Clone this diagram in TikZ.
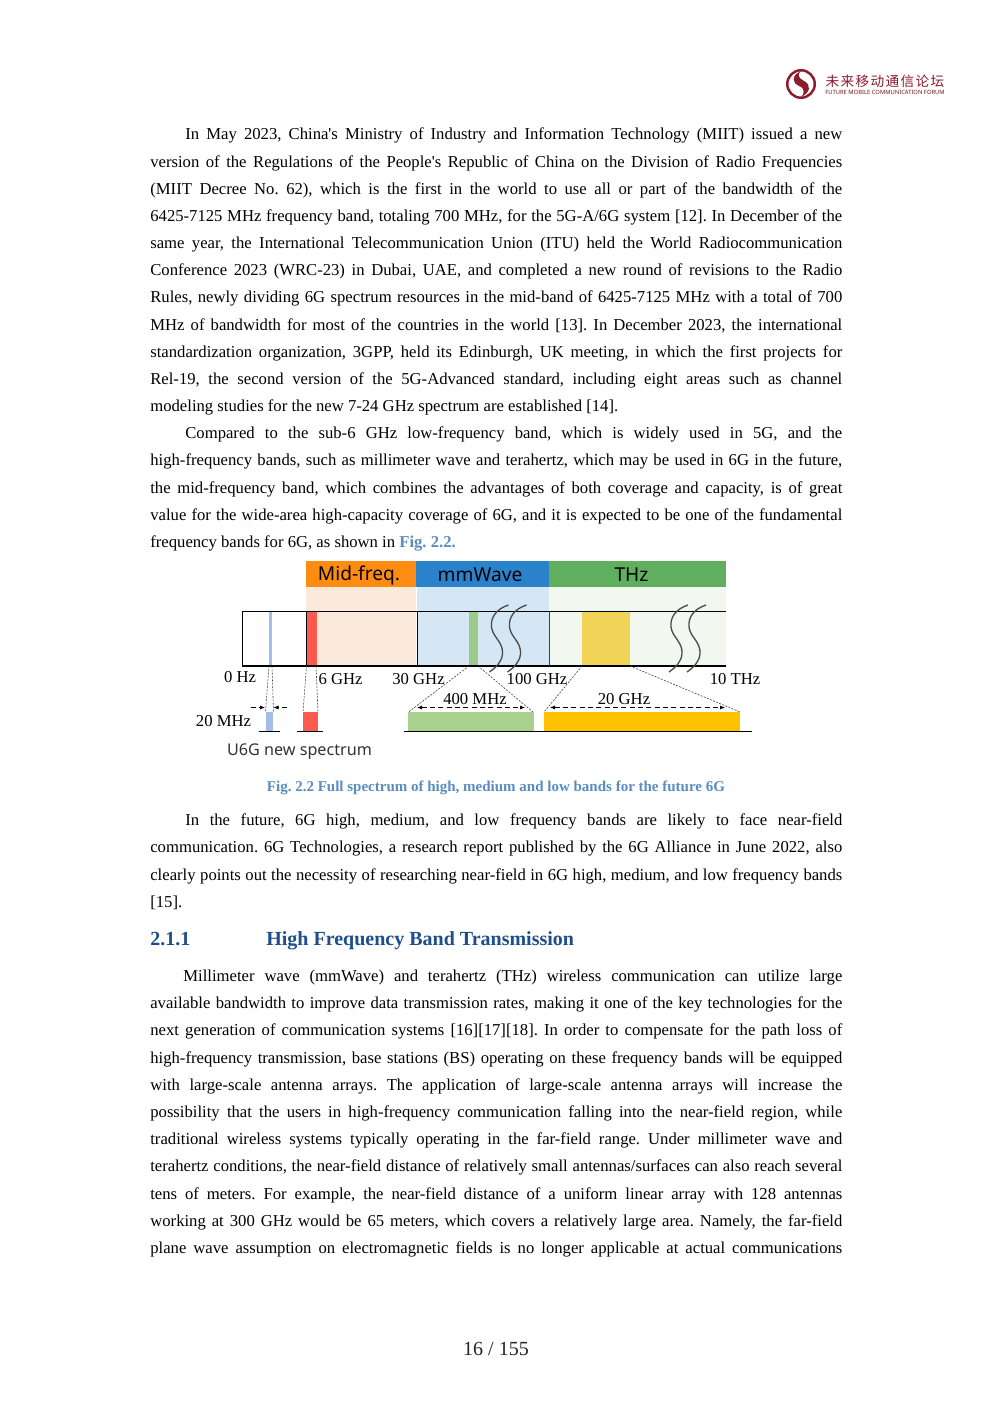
\documentclass[tikz,border=0pt]{standalone}
\usepackage{fontspec}
\setmainfont{Liberation Serif}
\newfontfamily\bodyf{Liberation Serif}
\newfontfamily\sansf{Noto Sans}
\newfontfamily\cjkf{Noto Sans CJK SC}
\usetikzlibrary{arrows.meta}
\definecolor{capblue}{HTML}{5B8CBE}
\definecolor{headblue}{HTML}{1F4E8C}
\definecolor{logored}{HTML}{8C1D2E}
\definecolor{orangeh}{HTML}{FF8C12}
\definecolor{blueh}{HTML}{2A82CB}
\definecolor{greenh}{HTML}{5FAF5F}
\definecolor{paleo}{HTML}{FBE9DC}
\definecolor{paleb}{HTML}{D5E6F4}
\definecolor{paleg}{HTML}{F2F7F0}
\definecolor{redb}{HTML}{FF5A50}
\definecolor{blueb}{HTML}{A3BDE8}
\definecolor{greenb}{HTML}{9CCB8C}
\definecolor{greenc}{HTML}{A9D18E}
\definecolor{yellowb}{HTML}{F0D458}
\definecolor{orangec}{HTML}{FFC000}
\tikzset{
  x=0.6pt,y=-0.6pt,
  body/.style={anchor=base west,inner sep=0pt,font=\bodyf\frenchspacing\fontsize{10}{12}\selectfont},
  band/.style={inner sep=0pt},
  bandtext/.style={inner sep=0pt,text=black,font=\sansf\fontsize{11.5}{13}\selectfont},
  freq/.style={inner sep=0pt,font=\fontsize{10}{12}\selectfont},
  zoomline/.style={line width=0.35pt,dash pattern=on 1.2pt off 0.8pt,black!75},
  dimline/.style={line width=0.4pt,densely dashed,black,{Latex[length=3pt,width=2.4pt]}-{Latex[length=3pt,width=2.4pt]}},
  wavy/.style={line width=0.8pt,black!70},
  rule/.style={line width=0.75pt},
  thinrule/.style={line width=0.55pt},
}
\newcommand{\fl}[2]{\node[body] (L#1) at (150,#1) {\makebox[415.2pt][s]{#2}};}
\newcommand{\il}[2]{\node[body] (L#1) at (185,#1) {\makebox[394.2pt][s]{#2}};}
\newcommand{\nl}[2]{\node[body] (L#1) at (150,#1) {#2};}
\newcommand{\wv}[2]{\draw[wavy] (#1+18,#2-22) .. controls (#1+6,#2-18) and (#1,#2-10) .. (#1+1,#2) .. controls (#1+2,#2+10) and (#1+13,#2+15) .. (#1+12,#2+27) .. controls (#1+11,#2+35) and (#1+6,#2+40) .. (#1-1,#2+45);}
\begin{document}
\begin{tikzpicture}
\useasboundingbox[fill=white] (0,0) rectangle (992,1403);
% logo
\node[circle,draw=logored,line width=1.5pt,minimum size=16.5pt,inner sep=0pt] (logo) at (801,84) {};
\fill[logored] (801,71) .. controls (790,76) and (793,84) .. (799,86) .. controls (806,89) and (804,94) .. (801,97) .. controls (810,93) and (812,85) .. (804,81) .. controls (798,78) and (797,74) .. (801,71) -- cycle;
\node[inner sep=0pt,text=logored,font=\cjkf\fontsize{8.2}{9}\selectfont] (logocn) at (885,81.5) {未\hspace{0.8pt}来\hspace{0.8pt}移\hspace{0.8pt}动\hspace{0.8pt}通\hspace{0.8pt}信\hspace{0.8pt}论\hspace{0.8pt}坛};
\node[inner sep=0pt,text=logored!80!black,font=\sansf\fontsize{3.5}{4}\selectfont] (logoen) at (885,92.5) {FUTURE MOBILE COMMUNICATION FORUM};
% paragraphs
\il{139.7}{In May 2023, China's Ministry of Industry and Information Technology (MIIT) issued a new}
\fl{167.3}{version of the Regulations of the People's Republic of China on the Division of Radio Frequencies}
\fl{194.3}{(MIIT Decree No. 62), which is the first in the world to use all or part of the bandwidth of the}
\fl{221.3}{6425-7125 MHz frequency band, totaling 700 MHz, for the 5G-A/6G system [12]. In December of the}
\fl{248.3}{same year, the International Telecommunication Union (ITU) held the World Radiocommunication}
\fl{275.3}{Conference 2023 (WRC-23) in Dubai, UAE, and completed a new round of revisions to the Radio}
\fl{302.5}{Rules, newly dividing 6G spectrum resources in the mid-band of 6425-7125 MHz with a total of 700}
\fl{330.3}{MHz of bandwidth for most of the countries in the world [13]. In December 2023, the international}
\fl{357.3}{standardization organization, 3GPP, held its Edinburgh, UK meeting, in which the first projects for}
\fl{384.3}{Rel-19, the second version of the 5G-Advanced standard, including eight areas such as channel}
\nl{411.5}{modeling studies for the new 7-24 GHz spectrum are established [14].}
\il{438}{Compared to the sub-6 GHz low-frequency band, which is widely used in 5G, and the}
\fl{465}{high-frequency bands, such as millimeter wave and terahertz, which may be used in 6G in the future,}
\fl{493}{the mid-frequency band, which combines the advantages of both coverage and capacity, is of great}
\fl{520}{value for the wide-area high-capacity coverage of 6G, and it is expected to be one of the fundamental}
\nl{547}{frequency bands for 6G, as shown in \textcolor{capblue}{\textbf{Fig. 2.2.}}}
% pale bands
\fill[paleo] (306,587) rectangle (416,666);
\fill[paleb] (417,587) rectangle (549,666);
\fill[paleg] (549,587) rectangle (726,666);
% header bands
\node[band,fill=orangeh,minimum width=66pt,minimum height=15.6pt] (midf) at (361,574) {};
\node[band,fill=blueh,minimum width=79.8pt,minimum height=15.6pt] (mmw) at (482.5,574) {};
\node[band,fill=greenh,minimum width=106.2pt,minimum height=15.6pt] (thz) at (637.5,574) {};
\node[bandtext] (midft) at (359,575) {Mid-freq.};
\node[bandtext] (mmwt) at (480,575) {mmWave};
\node[bandtext] (thzt) at (631.5,575) {THz};
% bars inside ruler
\fill[blueb] (269,612) rectangle (272,666);
\fill[redb] (306,612) rectangle (316.5,666);
\fill[greenb] (469,612) rectangle (478,666);
\fill[yellowb] (582,612) rectangle (630,666);
% ruler
\draw[rule] (726,611.5) -- (242.5,611.5) -- (242.5,666) -- (726,666);
\draw[thinrule] (306,611.5) -- (306,666);
\draw[thinrule] (417,611.5) -- (417,666);
\draw[rule,black!75] (549.5,611.5) -- (549.5,666);
% break marks
\wv{490.5}{627}
\wv{508.5}{627}
\wv{670}{627}
\wv{688}{627}
% zoomed bars
\fill[blueb] (265.5,712) rectangle (273,731);
\fill[redb] (303,712) rectangle (318,731);
\fill[greenc] (408,712) rectangle (533.5,731);
\fill[orangec] (544,712) rectangle (740,731);
\draw[rule] (259,731.5) -- (279.5,731.5);
\draw[rule] (297,731.5) -- (323,731.5);
\draw[rule] (404,731.5) -- (752,731.5);
% projection lines
\draw[zoomline] (269,666) -- (265.5,712);
\draw[zoomline] (272,666) -- (273.5,712);
\draw[zoomline] (306.5,666) -- (303,712);
\draw[zoomline] (316,666) -- (318,712);
\draw[zoomline] (469,666) -- (408.5,712);
\draw[zoomline] (478,666) -- (533,712);
\draw[zoomline] (582,666) -- (544,712);
\draw[zoomline] (630,666) -- (740,712);
% dimension arrows
\draw[dimline] (417,707.5) -- (525,707.5);
\draw[dimline] (550,707.5) -- (725,707.5);
\draw[line width=0.4pt,densely dashed,-{Latex[length=3pt,width=2.4pt]}] (251,707.5) -- (265,707.5);
\draw[line width=0.4pt,densely dashed,-{Latex[length=3pt,width=2.4pt]}] (287,707.5) -- (273.5,707.5);
% frequency labels
\node[freq] (f0) at (240,677.5) {0 Hz};
\node[freq] (f6) at (340.5,679.5) {6 GHz};
\node[freq] (f30) at (418.5,679.5) {30 GHz};
\node[freq] (f100) at (537,679) {100 GHz};
\node[freq] (f10) at (735,679.5) {10 THz};
\node[freq] (f400) at (475,699) {400 MHz};
\node[freq] (f20) at (624,699) {20 GHz};
\node[freq] (f20m) at (223.5,721.5) {20 MHz};
\node[inner sep=0pt,text=black!80,font=\sansf\fontsize{9.7}{12}\selectfont] (u6g) at (299.5,751.5) {U6G new spectrum};
% caption
\node[inner sep=0pt,text=capblue,font=\bodyf\frenchspacing\bfseries\fontsize{9}{11}\selectfont] (cap) at (496,787.5) {Fig. 2.2 Full spectrum of high, medium and low bands for the future 6G};
% paragraph 3
\il{825}{In the future, 6G high, medium, and low frequency bands are likely to face near-field}
\fl{852}{communication. 6G Technologies, a research report published by the 6G Alliance in June 2022, also}
\fl{880}{clearly points out the necessity of researching near-field in 6G high, medium, and low frequency bands}
\nl{907}{[15].}
% heading
\node[body,text=headblue,font=\bodyf\bfseries\fontsize{12}{14}\selectfont] (hnum) at (150,945) {2.1.1};
\node[body,text=headblue,font=\bodyf\bfseries\fontsize{12}{14}\selectfont] (htitle) at (266,945) {High Frequency Band Transmission};
% paragraph 4
\node[body] (L981) at (183,981) {\makebox[395.4pt][s]{Millimeter wave (mmWave) and terahertz (THz) wireless communication can utilize large}};
\fl{1008}{available bandwidth to improve data transmission rates, making it one of the key technologies for the}
\fl{1035}{next generation of communication systems [16][17][18]. In order to compensate for the path loss of}
\fl{1063}{high-frequency transmission, base stations (BS) operating on these frequency bands will be equipped}
\fl{1090}{with large-scale antenna arrays. The application of large-scale antenna arrays will increase the}
\fl{1117}{possibility that the users in high-frequency communication falling into the near-field region, while}
\fl{1144}{traditional wireless systems typically operating in the far-field range. Under millimeter wave and}
\fl{1171}{terahertz conditions, the near-field distance of relatively small antennas/surfaces can also reach several}
\fl{1199}{tens of meters. For example, the near-field distance of a uniform linear array with 128 antennas}
\fl{1226}{working at 300 GHz would be 65 meters, which covers a relatively large area. Namely, the far-field}
\fl{1253}{plane wave assumption on electromagnetic fields is no longer applicable at actual communications}
% page number
\node[inner sep=0pt,font=\bodyf\fontsize{12}{14}\selectfont,text=black!85] (pg) at (496,1349) {16 / 155};
\end{tikzpicture}
\end{document}
